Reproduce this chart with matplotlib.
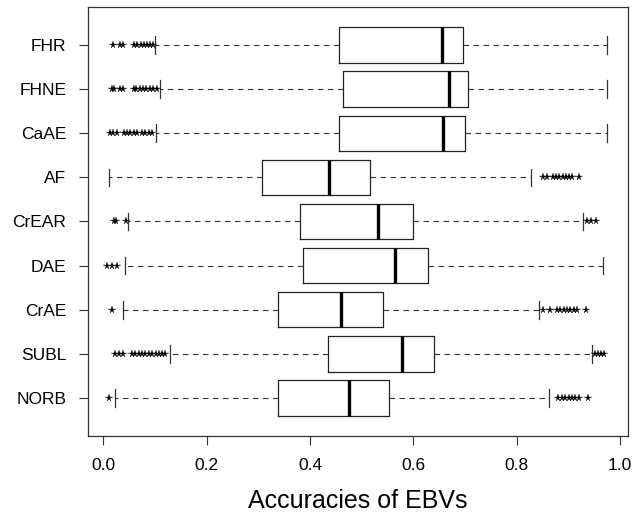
import matplotlib
matplotlib.use("Agg")
import matplotlib.pyplot as plt

plt.rcParams['font.family'] = ['Liberation Sans', 'DejaVu Sans']

# traits, bottom to top as drawn
traits = ["NORB", "SUBL", "CrAE", "DAE", "CrEAR", "AF", "CaAE", "FHNE", "FHR"]

# five-number summaries
whis_lo = [0.023, 0.128, 0.038, 0.041, 0.048, 0.010, 0.101, 0.109, 0.100]
q1      = [0.339, 0.434, 0.339, 0.387, 0.380, 0.307, 0.457, 0.463, 0.456]
median  = [0.475, 0.578, 0.460, 0.564, 0.531, 0.436, 0.658, 0.669, 0.655]
q3      = [0.553, 0.640, 0.542, 0.629, 0.600, 0.517, 0.700, 0.706, 0.696]
whis_hi = [0.862, 0.946, 0.844, 0.967, 0.928, 0.827, 0.975, 0.975, 0.975]

# outliers
fl_norb = [0.010, 0.881, 0.888, 0.894, 0.901, 0.907, 0.914, 0.920, 0.938]
fl_subl = [0.023, 0.030, 0.038, 0.056, 0.062, 0.068, 0.075, 0.081, 0.088, 0.094,
           0.101, 0.107, 0.114, 0.120, 0.951, 0.958, 0.964, 0.969]
fl_crae = [0.017, 0.851, 0.864, 0.878, 0.885, 0.891, 0.898, 0.904, 0.911, 0.917, 0.935]
fl_dae = [0.007, 0.017, 0.0265]
fl_crear = [0.020, 0.0245, 0.0445, 0.936, 0.944, 0.953]
fl_af = [0.852, 0.859, 0.870, 0.876, 0.883, 0.889, 0.896, 0.902, 0.907, 0.920]
fl_caae = [0.0136, 0.019, 0.027, 0.039, 0.045, 0.052, 0.059, 0.066, 0.075, 0.081,
           0.088, 0.094]
fl_fhne = [0.017, 0.020, 0.033, 0.038, 0.059, 0.064, 0.070, 0.077, 0.083, 0.090,
           0.096, 0.103]
fl_fhr = [0.019, 0.033, 0.037, 0.059, 0.065, 0.072, 0.078, 0.085, 0.091, 0.096]
fliers = [fl_norb, fl_subl, fl_crae, fl_dae, fl_crear, fl_af, fl_caae, fl_fhne, fl_fhr]

xticks = [0.0, 0.2, 0.4, 0.6, 0.8, 1.0]

stats = []
for i, name in enumerate(traits):
    stats.append(dict(label=name, whislo=whis_lo[i], q1=q1[i], med=median[i],
                      q3=q3[i], whishi=whis_hi[i], fliers=fliers[i]))

fig = plt.figure(figsize=(6.33, 5.14), dpi=100)
ax = fig.add_axes([88/633, 1 - 436/514, 540/633, 429/514])

ax.bxp(stats, positions=range(1, 10), widths=0.8, capwidths=0.4,
       orientation='horizontal',
       boxprops=dict(color='#222222', linewidth=0.9),
       medianprops=dict(color='black', linewidth=2.4, solid_capstyle='butt'),
       whiskerprops=dict(color='#333333', linewidth=0.8, linestyle=(0, (5, 4))),
       capprops=dict(color='#333333', linewidth=0.9),
       flierprops=dict(marker='*', markersize=5.5, markerfacecolor='black',
                       markeredgecolor='black', markeredgewidth=0.2,
                       linestyle='none'))

ax.set_xlim(-0.0298, 1.0157)
ax.set_ylim(0.14, 9.86)
ax.set_xticks(xticks)
ax.set_xticklabels(["%.1f" % t for t in xticks])
ax.tick_params(axis='both', direction='out', length=6.5, width=0.8,
               colors='#333333', labelcolor='black', labelsize=12.5, pad=9)
for s in ax.spines.values():
    s.set_color('#333333')
    s.set_linewidth(0.9)

ax.set_xlabel("Accuracies of EBVs", fontsize=18, labelpad=12)

fig.savefig("out.png", dpi=100)
